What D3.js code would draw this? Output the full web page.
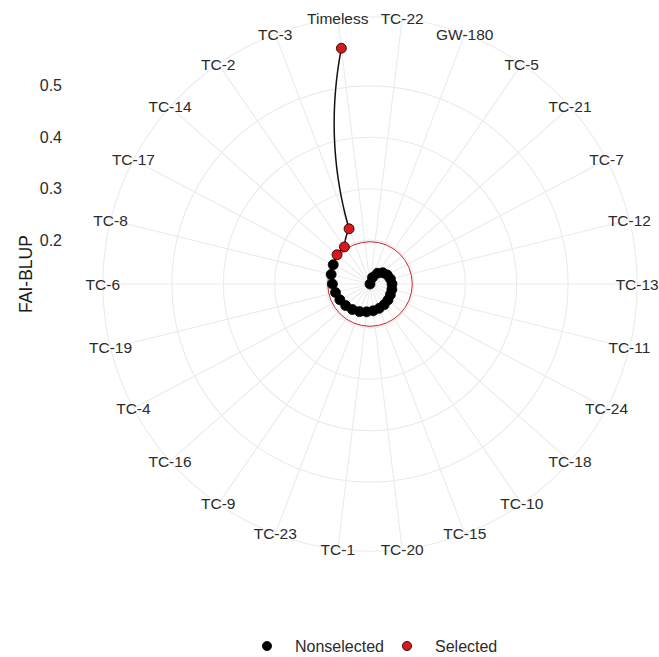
<!DOCTYPE html>
<html>
<head>
<meta charset="utf-8">
<script src="https://cdn.jsdelivr.net/npm/d3@7/dist/d3.min.js"></script>
<style>
  body { margin: 0; background: #fff; }
  text { font-family: 'Liberation Sans', Arial, sans-serif; }
</style>
</head>
<body>
<div id="chart"></div>
<script>
// genotypes ranked by FAI-BLUP index (placed counter-clockwise from the top)
var genotypes = ['Timeless', 'TC-3', 'TC-2', 'TC-14', 'TC-17', 'TC-8', 'TC-6', 'TC-19', 'TC-4',
    'TC-16', 'TC-9', 'TC-23', 'TC-1', 'TC-20', 'TC-15', 'TC-10', 'TC-18', 'TC-24', 'TC-11',
    'TC-13', 'TC-12', 'TC-7', 'TC-21', 'TC-5', 'GW-180', 'TC-22'];
var faiBlup = [0.5765, 0.2296, 0.2024, 0.2004, 0.1955, 0.1926, 0.1878, 0.1839, 0.1809,
    0.1780, 0.1751, 0.1722, 0.1693, 0.1673, 0.1654, 0.1635, 0.1615, 0.1595, 0.1586,
    0.1576, 0.1557, 0.1527, 0.1479, 0.1401, 0.1284, 0.1148];
var selection = ['Selected', 'Selected', 'Selected', 'Selected', 'Nonselected', 'Nonselected',
    'Nonselected', 'Nonselected', 'Nonselected', 'Nonselected', 'Nonselected', 'Nonselected',
    'Nonselected', 'Nonselected', 'Nonselected', 'Nonselected', 'Nonselected', 'Nonselected',
    'Nonselected', 'Nonselected', 'Nonselected', 'Nonselected', 'Nonselected', 'Nonselected',
    'Nonselected', 'Nonselected'];
var radialTicks = [0.2, 0.3, 0.4, 0.5];
var cutoff = 0.197;
var legendKeys = ['Nonselected', 'Selected'];

var W = 659, H = 657;
var cx = 370, cy = 284;
var rMax = 237.5;            // data maximum
var rOuter = rMax * 0.45 / 0.4;

function svgr(id, w, h) {
    return d3.select(id)
        .append('svg')
        .attr('width', w)
        .attr('height', h)
        .attr('xmlns', 'http://www.w3.org/2000/svg');
}

function polar(a, r) {
    return [cx + r * Math.sin(a), cy - r * Math.cos(a)];
}

function plotData(id, w, h) {
    var svg = svgr(id, w, h);

    var theta = d3.scalePoint()
        .domain(genotypes)
        .range([0, -2 * Math.PI])
        .padding(0.5);
    var r = d3.scaleLinear()
        .domain(d3.extent(faiBlup))
        .range([0, rMax]);
    var fill = d3.scaleOrdinal()
        .domain(legendKeys)
        .range(['#000000', '#d7191c']);

    var data = genotypes.map((g, i) => ({ g: g, v: faiBlup[i], s: selection[i] }));

    // grid
    var grid = svg.append('g');
    grid.selectAll('circle')
        .data(radialTicks.map((t) => r(t)).concat([rOuter]))
        .enter()
        .append('circle')
        .attr('cx', cx)
        .attr('cy', cy)
        .attr('r', (d) => d)
        .attr('fill', 'none')
        .attr('stroke', '#ebebeb')
        .attr('stroke-width', 1.1);
    grid.selectAll('line')
        .data(genotypes)
        .enter()
        .append('line')
        .attr('x1', cx)
        .attr('y1', cy)
        .attr('x2', (d) => polar(theta(d), rOuter)[0])
        .attr('y2', (d) => polar(theta(d), rOuter)[1])
        .attr('stroke', '#ebebeb')
        .attr('stroke-width', 1.1);

    // theta labels
    svg.append('g').selectAll('text')
        .data(genotypes)
        .enter()
        .append('text')
        .attr('x', (d) => polar(theta(d), rOuter)[0])
        .attr('y', (d) => polar(theta(d), rOuter)[1])
        .attr('text-anchor', 'middle')
        .attr('dominant-baseline', 'central')
        .attr('font-size', 15.5)
        .attr('fill', '#2b2b2b')
        .text((d) => d);

    // radial axis on the left
    var yAxis = d3.scaleLinear()
        .domain(d3.extent(faiBlup))
        .range([cy, cy - rMax]);
    var ax = svg.append('g')
        .attr('transform', 'translate(66,0)')
        .call(d3.axisLeft(yAxis).tickValues(radialTicks).tickSize(0).tickPadding(4)
            .tickFormat(d3.format('.1f')));
    ax.select('.domain').remove();
    ax.selectAll('text')
        .attr('font-size', 16)
        .attr('font-family', "'Liberation Sans', Arial, sans-serif")
        .attr('fill', '#2b2b2b');

    svg.append('text')
        .attr('transform', 'translate(26,274) rotate(-90)')
        .attr('text-anchor', 'middle')
        .attr('dominant-baseline', 'central')
        .attr('font-size', 17.5)
        .attr('fill', '#1a1a1a')
        .text('FAI-BLUP');

    // cutoff circle
    svg.append('circle')
        .attr('cx', cx)
        .attr('cy', cy)
        .attr('r', r(cutoff))
        .attr('fill', 'none')
        .attr('stroke', '#c62828')
        .attr('stroke-width', 1);

    // path interpolated in polar space
    var pts = [];
    for (var i = 0; i < data.length - 1; i++) {
        var a0 = theta(data[i].g), a1 = theta(data[i + 1].g);
        var r0 = r(data[i].v), r1 = r(data[i + 1].v);
        for (var s = 0; s < 30; s++) {
            var t = s / 30;
            pts.push(polar(a0 + (a1 - a0) * t, r0 + (r1 - r0) * t));
        }
    }
    var last = data[data.length - 1];
    pts.push(polar(theta(last.g), r(last.v)));

    svg.append('path')
        .datum(pts)
        .attr('d', d3.line())
        .attr('fill', 'none')
        .attr('stroke', '#111')
        .attr('stroke-width', 1.5);

    svg.append('g').selectAll('circle')
        .data(data.slice().reverse())
        .enter()
        .append('circle')
        .attr('cx', (d) => polar(theta(d.g), r(d.v))[0])
        .attr('cy', (d) => polar(theta(d.g), r(d.v))[1])
        .attr('r', 5)
        .attr('fill', (d) => fill(d.s))
        .attr('stroke', '#000')
        .attr('stroke-width', 0.8);

    // legend
    var leg = svg.append('g').selectAll('g')
        .data(legendKeys)
        .enter()
        .append('g')
        .attr('transform', (d, i) => `translate(${267 + i * 140},646)`);
    leg.append('circle')
        .attr('r', 4.6)
        .attr('fill', (d) => fill(d))
        .attr('stroke', '#000')
        .attr('stroke-width', 0.8);
    leg.append('text')
        .attr('x', 28)
        .attr('dominant-baseline', 'central')
        .attr('font-size', 16)
        .attr('fill', '#2b2b2b')
        .text((d) => d);
}

plotData('#chart', W, H);
</script>
</body>
</html>
